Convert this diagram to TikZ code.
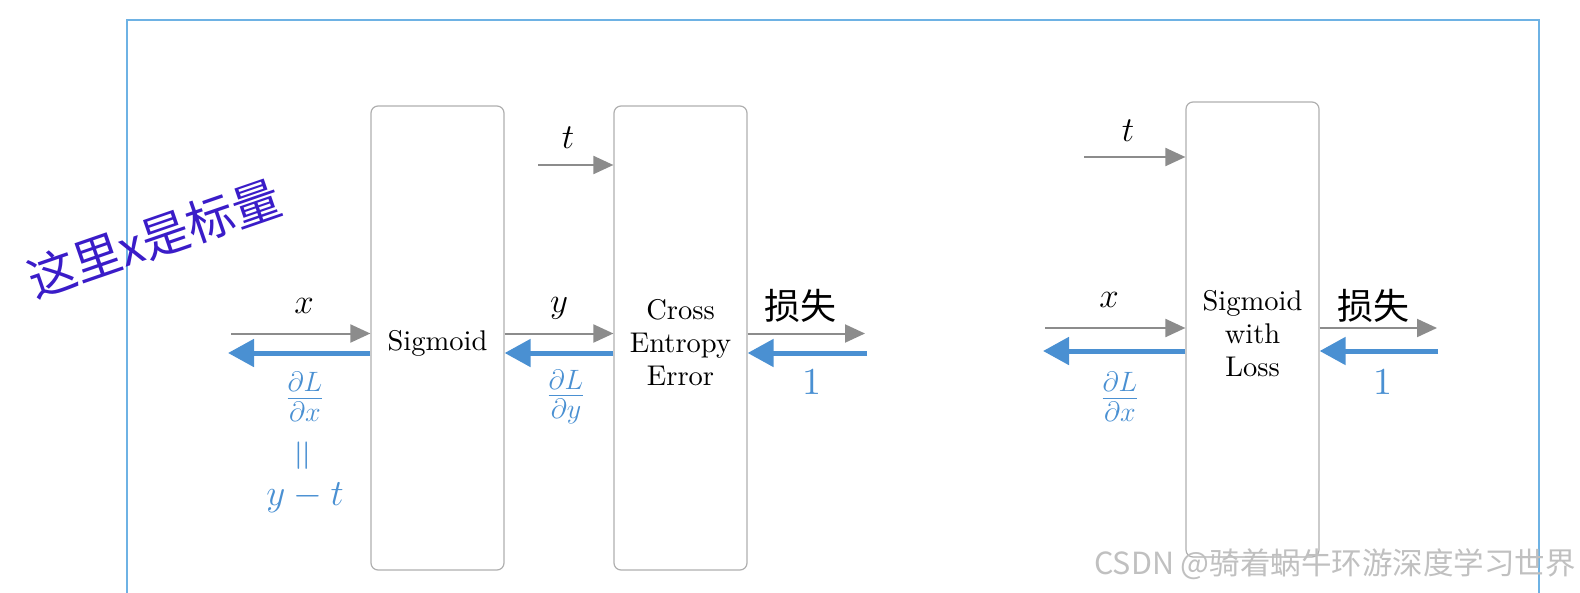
\RequirePackage{fix-cm}
\documentclass[tikz,border=0pt]{standalone}
\usepackage{fontspec}
\setmainfont{lmroman10-regular.otf}
\newfontfamily\cjk{Noto Sans CJK SC}
\usetikzlibrary{arrows.meta}
\definecolor{bl}{RGB}{74,144,210}
\definecolor{ga}{RGB}{140,140,140}
\definecolor{bx}{RGB}{175,175,175}
\definecolor{fr}{RGB}{110,178,228}
\definecolor{hw}{RGB}{58,28,200}
\definecolor{wm}{RGB}{192,192,192}
\begin{document}
\begin{tikzpicture}[x=1pt,y=-1pt,
 box/.style={draw=bx, line width=1.2pt, rounded corners=7pt, minimum width=133pt, inner sep=0pt},
 boxtext/.style={align=center, font=\fontsize{28.5}{33}\selectfont, inner sep=0pt},
 fwd/.style={draw=ga, line width=2pt, -{Triangle[length=20pt,width=18pt]}},
 bwd/.style={draw=bl, line width=5pt, -{Triangle[length=26pt,width=27pt]}},
 lbl/.style={font=\fontsize{35}{40}\selectfont, inner sep=0pt},
 zh/.style={font=\cjk\fontsize{36}{40}\selectfont, inner sep=0pt},
 grad/.style={text=bl, inner sep=0pt, font=\fontsize{40}{46}\selectfont},
 one/.style={text=bl, inner sep=0pt, font=\fontsize{38}{44}\selectfont},
]
\path[use as bounding box] (0,0) rectangle (1580,592);
% frame
\draw[fr, line width=1.5pt] (127,600) -- (127,20) -- (1539,20) -- (1539,600);
% boxes
\node[box, minimum height=464pt, label={[boxtext, yshift=-5pt]center:Sigmoid}] (sig) at (437.5,338) {};
\node[box, minimum height=464pt, label={[boxtext, yshift=-5pt]center:{Cross\\Entropy\\Error}}] (cee) at (680.5,338) {};
\node[box, minimum height=455pt, label={[boxtext, yshift=-4pt]center:{Sigmoid\\with\\Loss}}] (swl) at (1252.5,329.5) {};
% left diagram coordinates
\coordinate (xs) at (231,333.5);
\coordinate (xe) at (228,353);
\coordinate (ts) at (538,165);
\coordinate (ls) at (865,333.5);
\coordinate (le) at (867,353);
\draw[fwd] (xs) -- (xs -| sig.west);
\draw[bwd] (xe -| sig.west) -- (xe);
\draw[fwd] (sig.east |- xs) -- (cee.west |- xs);
\draw[bwd] (cee.west |- xe) -- (sig.east |- xe);
\draw[fwd] (ts) -- (ts -| cee.west);
\draw[fwd] (cee.east |- ls) -- (ls);
\draw[bwd] (le) -- (le -| cee.east);
% left labels
\node[lbl] (lx) at (304,306) {$x$};
\node[lbl] (ly) at (559,308) {$y$};
\node[lbl] (lt) at (568,138) {$t$};
\node[zh] (ll) at (800,306) {损失};
\node[one] (l1) at (812,382) {1};
\node[grad] (gx) at (305,397) {$\frac{\partial L}{\partial x}$};
\node[text=bl, inner sep=0pt, rotate=90, font=\fontsize{44}{48}\selectfont] (eq) at (305.5,456) {$=$};
\node[text=bl, inner sep=0pt, font=\fontsize{37}{42}\selectfont] (ymt) at (305,498) {$y-t$};
\node[grad] (gy) at (566,397) {$\frac{\partial L}{\partial y}$};
% right diagram
\coordinate (t2) at (1084,157);
\coordinate (x2) at (1045,328);
\coordinate (x2b) at (1043,351);
\coordinate (l2) at (1437,328);
\coordinate (l2b) at (1438,351);
\draw[fwd] (t2) -- (t2 -| swl.west);
\draw[fwd] (x2) -- (x2 -| swl.west);
\draw[bwd] (x2b -| swl.west) -- (x2b);
\draw[fwd] (swl.east |- l2) -- (l2);
\draw[bwd] (l2b) -- (l2b -| swl.east);
\node[lbl] (rt) at (1128,131) {$t$};
\node[lbl] (rx) at (1109,300) {$x$};
\node[grad] (rgx) at (1120,397) {$\frac{\partial L}{\partial x}$};
\node[zh] (rl) at (1373,306) {损失};
\node[one] (r1) at (1383,382) {1};
% handwritten note
\node[text=hw, inner sep=0pt, rotate=19, font=\cjk\fontsize{48}{52}\selectfont] (note) at (154,238) {这里x是标量};
% watermark
\node[text=wm, inner sep=0pt, anchor=east, font=\cjk\fontsize{30.5}{34}\selectfont] (wmk) at (1576,564) {CSDN @骑着蜗牛环游深度学习世界};
\end{tikzpicture}
\end{document}
